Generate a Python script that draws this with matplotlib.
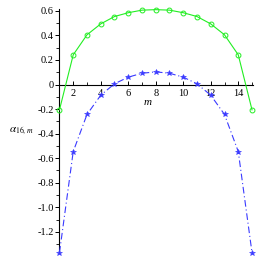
import numpy as np
import matplotlib
matplotlib.use('Agg')
import matplotlib.pyplot as plt
from matplotlib.ticker import MultipleLocator

# values
m = np.arange(1, 16)
alpha_upper = [-0.206, 0.242, 0.405, 0.494, 0.554, 0.585, 0.606, 0.610,
               0.606, 0.585, 0.554, 0.494, 0.405, 0.242, -0.206]
alpha_lower = [-1.37, -0.546, -0.244, -0.087, 0.006, 0.060, 0.092, 0.103,
               0.092, 0.060, 0.006, -0.087, -0.244, -0.546, -1.37]
x_ticks = [2, 4, 6, 8, 10, 12, 14]
y_ticks = [-1.2, -1.0, -0.8, -0.6, -0.4, -0.2, 0, 0.2, 0.4, 0.6]
y_labels = ['-1.2', '-1.0', '-0.8', '-0.6', '-0.4', '-0.2', '0', '0.2', '0.4', '0.6']

plt.rcParams['font.family'] = ['Liberation Serif', 'DejaVu Serif']
plt.rcParams['mathtext.fontset'] = 'stix'

fig = plt.figure(figsize=(2.62, 2.62), dpi=100)
ax = fig.add_axes([0.227, 0.0355, 0.7375, 0.93])

ax.plot(m, alpha_upper, color='#22ee22', lw=0.8, marker='o', ms=3.5,
        mfc='none', mec='#22ee22', mew=0.7, clip_on=False, zorder=3)
ax.plot(m, alpha_lower, color='#3a3aff', lw=0.8, ls=(0, (6, 2.5, 1, 2.5)),
        marker='*', ms=4, mfc='#3a3aff', mec='#3a3aff', mew=0.4,
        clip_on=False, zorder=3)

ax.set_xlim(1, 15.05)
ax.set_ylim(-1.37, 0.615)

# axes through the origin, maple style
ax.spines['left'].set_position(('data', 1))
ax.spines['bottom'].set_position(('data', 0))
ax.spines['top'].set_visible(False)
ax.spines['right'].set_visible(False)
for s in ['left', 'bottom']:
    ax.spines[s].set_linewidth(0.8)

ax.set_xticks(x_ticks)
ax.set_yticks(y_ticks)
ax.set_yticklabels(y_labels)
ax.xaxis.set_minor_locator(MultipleLocator(1))
ax.yaxis.set_minor_locator(MultipleLocator(0.1))
ax.tick_params(axis='x', which='both', direction='in', labelsize=7.5, pad=3)
ax.tick_params(axis='y', which='both', direction='out', labelsize=7.5, pad=1)
ax.tick_params(which='major', length=3, width=0.7)
ax.tick_params(which='minor', length=2, width=0.6)

ax.text(7.42, -0.15, 'm', style='italic', fontsize=8, ha='center', va='center')
fig.text(22 / 262, 1 - 131 / 262, r'$\alpha_{16,\,m}$', fontsize=8,
         ha='center', va='center')

fig.savefig('out.png', dpi=100)
